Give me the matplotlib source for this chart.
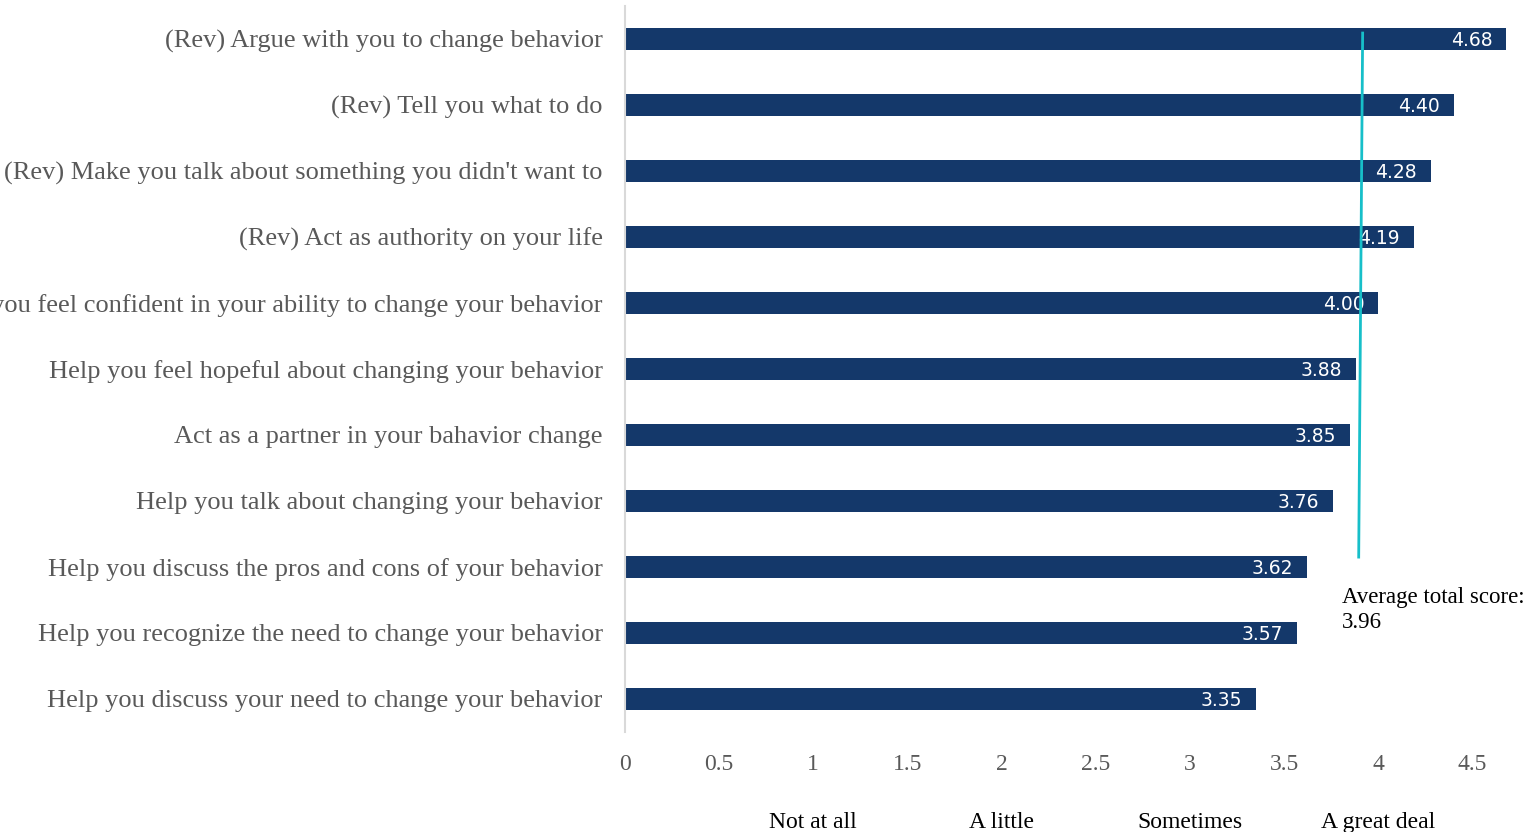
import matplotlib
matplotlib.use("Agg")
import matplotlib.pyplot as plt

# ── Data ──────────────────────────────────────────────────
items = [
    "(Rev) Argue with you to change behavior",
    "(Rev) Tell you what to do",
    "(Rev) Make you talk about something you didn't want to",
    "(Rev) Act as authority on your life",
    "Help you feel confident in your ability to change your behavior",
    "Help you feel hopeful about changing your behavior",
    "Act as a partner in your bahavior change",
    "Help you talk about changing your behavior",
    "Help you discuss the pros and cons of your behavior",
    "Help you recognize the need to change your behavior",
    "Help you discuss your need to change your behavior",
]
scores = [4.68, 4.40, 4.28, 4.19, 4.00, 3.88, 3.85, 3.76, 3.62, 3.57, 3.35]
xticks = [0, 0.5, 1, 1.5, 2, 2.5, 3, 3.5, 4, 4.5]
xtick_labels = ["0", "0.5", "1", "1.5", "2", "2.5", "3", "3.5", "4", "4.5"]
scale_pos = [1, 2, 3, 4]
scale_labels = ["Not at all", "A little", "Sometimes", "A great deal"]
avg_score = 3.96
avg_line_x = (3.917, 3.896)   # drawn line in the source sits a bit left of 3.96

BAR = "#14386A"
CYAN = "#17BFC9"
GREY = "#595959"
SERIF = "Liberation Serif"

fig = plt.figure(figsize=(15.36, 8.32), dpi=100)
ax = fig.add_axes([0.4069, 0.1202, 0.5885, 0.8726])

y = list(range(len(items)))
ax.barh(y, scores, height=0.34, color=BAR, zorder=2)

# value labels inside bar ends
for yi, v in zip(y, scores):
    ax.annotate(f"{v:.2f}", (v, yi + 0.03), xytext=(-10, 0), textcoords="offset points",
                ha="right", va="center", color="white", fontsize=13.5,
                family="DejaVu Sans", zorder=3)

# average line + note
ax.plot(avg_line_x, (-0.09, 7.85), color=CYAN, lw=2, zorder=4)
ax.text(3.805, 8.3, f"Average total score:\n{avg_score:.2f}", ha="left", va="top",
        fontsize=16.5, family=SERIF, color="black", linespacing=1.25)

ax.set_ylim(len(items) - 0.5, -0.5)
ax.set_xlim(0, 4.8)
ax.set_yticks(y)
ax.set_yticklabels(items, family=SERIF, fontsize=19, color=GREY)
ax.set_xticks(xticks)
ax.set_xticklabels(xtick_labels, family=SERIF, fontsize=17, color=GREY)
ax.tick_params(axis="y", length=0, pad=16)
ax.tick_params(axis="x", length=0, pad=16)

for s in ["top", "right", "bottom"]:
    ax.spines[s].set_visible(False)
ax.spines["left"].set_color("#D9D9D9")
ax.spines["left"].set_linewidth(1.5)

# response scale under the ticks
for xp, lab in zip(scale_pos, scale_labels):
    ax.text(xp, -0.124, lab, transform=ax.get_xaxis_transform(), ha="center", va="center",
            fontsize=17, family=SERIF, color="black")

fig.savefig("out.png", dpi=100)
